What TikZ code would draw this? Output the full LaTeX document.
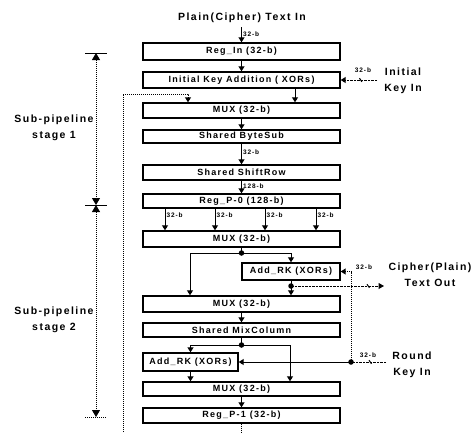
\documentclass[tikz,border=0pt]{standalone}
\usepackage{fontspec}
\setmainfont{Liberation Sans}
\newfontfamily\dfont{Liberation Sans}[LetterSpace=14]
\usetikzlibrary{arrows.meta,calc}
\begin{document}
\begin{tikzpicture}[x=1pt,y=-1pt,
  box/.style={draw, line width=1.4pt, minimum width=197pt, inner sep=0pt, font=\dfont\bfseries\fontsize{9}{10}\selectfont},
  arr/.style={line width=1pt, -{Triangle[length=5pt,width=6pt]}},
  ln/.style={line width=1pt},
  dotl/.style={line width=1pt, dash pattern=on 1pt off 1pt},
  dashl/.style={line width=1pt, dash pattern=on 2.5pt off 1pt},
  bus/.style={font=\dfont\bfseries\fontsize{6.5}{7}\selectfont, inner sep=1pt},
  lbl/.style={font=\dfont\bfseries\fontsize{10.5}{16}\selectfont, align=center},
  jdot/.style={circle, fill, inner sep=0pt, minimum size=5.5pt},
  dimtip/.tip={Triangle[length=7pt,width=8pt]},
]
\useasboundingbox (0,0) rectangle (474,432);

% title
\node[lbl] (title) at (242,18) {Plain(Cipher) Text In};
\coordinate (tin) at (241.5,27);

% boxes
\node[box, minimum height=17pt] (regin) at (241.5,51.5) {Reg\_In (32-b)};
\node[box, minimum height=16pt] (ika) at (241.5,80) {Initial Key Addition ( XORs)};
\node[box, minimum height=15pt] (mux1) at (241.5,110.5) {MUX (32-b)};
\node[box, minimum height=13pt] (bytesub) at (241.5,136.5) {Shared ByteSub};
\node[box, minimum height=15pt] (shiftrow) at (241.5,172.5) {Shared ShiftRow};
\node[box, minimum height=14pt] (regp0) at (241.5,201) {Reg\_P-0 (128-b)};
\node[box, minimum height=16pt] (mux2) at (241.5,239) {MUX (32-b)};
\node[box, minimum height=17pt, minimum width=98pt] (addrk1) at (291,271.5) {Add\_RK (XORs)};
\node[box, minimum height=16pt] (mux3) at (241.5,304) {MUX (32-b)};
\node[box, minimum height=14pt] (mixcol) at (241.5,330) {Shared MixColumn};
\node[box, minimum height=18pt, minimum width=95pt] (addrk2) at (190.5,362) {Add\_RK (XORs)};
\node[box, minimum height=14pt] (mux4) at (241.5,389) {MUX (32-b)};
\node[box, minimum height=15pt] (regp1) at (241.5,415.5) {Reg\_P-1 (32-b)};

% vertical chain
\draw[arr] (tin) -- node[bus, right, pos=0.45] {32-b} (regin.north);
\draw[arr] (regin.south) -- (ika.north);
\draw[arr] ([xshift=53.5pt]ika.south) -- ([xshift=53.5pt]mux1.north);
\draw[arr] (mux1.south) -- (bytesub.north);
\draw[arr] (bytesub.south) -- node[bus, right, pos=0.4] {32-b} (shiftrow.north);
\draw[arr] (shiftrow.south) -- node[bus, right, pos=0.4] {128-b} (regp0.north);
\foreach \dx in {-76.5,-26.5,23.5,74.5}{
  \draw[arr] ([xshift=\dx pt]regp0.south) -- node[bus, right, pos=0.3] {32-b} ([xshift=\dx pt]mux2.north);
}

% stage 2 upper
\node[jdot] (j1) at (241.5,253) {};
\draw[ln] (mux2.south) -- (j1.center);
\draw[arr] (j1.center) -| ([xshift=-51.5pt]mux3.north);
\draw[arr] (j1.center) -| (addrk1.north);
\node[jdot] (j2) at (291,286) {};
\draw[ln] (addrk1.south) -- (j2.center);
\draw[arr] (j2.center) -- (j2.center |- mux3.north);
\coordinate (cout) at (384,286);
\draw[dashl, -{Triangle[length=5.5pt,width=6pt]}] (j2.center) -- coordinate[pos=0.83] (t2) (cout);
\draw[ln] ([shift={(-1.2pt,1.8pt)}]t2) -- ([shift={(1.2pt,-1.8pt)}]t2);
\node[bus] (b2) at (364,267) {32-b};
\node[lbl] (ctout) at (430,275) {Cipher(Plain)\\Text Out};

\draw[arr] (mux3.south) -- (mixcol.north);

% stage 2 lower
\node[jdot] (j4) at (241.5,345) {};
\draw[ln] (mixcol.south) -- (j4.center);
\draw[arr] (j4.center) -| (addrk2.north);
\draw[arr] (j4.center) -| ([xshift=48.5pt]mux4.north);
\draw[arr] (addrk2.south) -- (addrk2.south |- mux4.north);
\draw[arr] (mux4.south) -- (regp1.north);
\coordinate (outb) at (241.5,432);
\draw[dotl] (regp1.south) -- (outb);

% round key in
\coordinate (rkin) at (386,362);
\node[jdot] (j3) at (351,362) {};
\draw[dashl] (rkin) -- coordinate[pos=0.45] (t3) (j3.center);
\draw[ln] ([shift={(-1.2pt,1.8pt)}]t3) -- ([shift={(1.2pt,-1.8pt)}]t3);
\draw[arr] (j3.center) -- (j3.center -| addrk2.east);
\draw[dotl, -{Triangle[length=5pt,width=6pt]}] (j3.center) |- (addrk1.east);
\node[bus] (b3) at (368,355) {32-b};
\node[lbl] (rkl) at (412,364.5) {Round\\Key In};

% initial key in
\coordinate (kin) at (377,80);
\draw[dashl, -{Triangle[length=5pt,width=6pt]}] (kin) -- coordinate[pos=0.45] (t1) (ika.east);
\draw[ln] ([shift={(-1.2pt,1.8pt)}]t1) -- ([shift={(1.2pt,-1.8pt)}]t1);
\node[bus] (b1) at (363,70) {32-b};
\node[lbl] (ikl) at (403,81) {Initial\\Key In};

% feedback
\coordinate (fbb) at (123,432);
\coordinate (fbt) at (123,94);
\draw[dotl, -{Triangle[length=5pt,width=6pt]}] (fbb) -- (fbt) -| ([xshift=-53.5pt]mux1.north);

% dimension lines
\coordinate (dt) at (96,53);
\coordinate (dm) at (96,205);
\coordinate (db) at (96,417);
\draw[dotl, {dimtip}-{dimtip}] (dt) -- (dm);
\draw[dotl, {dimtip}-{dimtip}] (dm) -- (db);
\draw[ln] ([xshift=-11pt]dt) -- ([xshift=11pt]dt);
\draw[ln] ([xshift=-11pt]dm) -- ([xshift=11pt]dm);
\draw[dotl] ([xshift=-11pt]db) -- ([xshift=11pt]db);
\node[lbl] (s1) at (54,127.5) {Sub-pipeline\\stage 1};
\node[lbl] (s2) at (54,320) {Sub-pipeline\\stage 2};
\end{tikzpicture}
\end{document}
